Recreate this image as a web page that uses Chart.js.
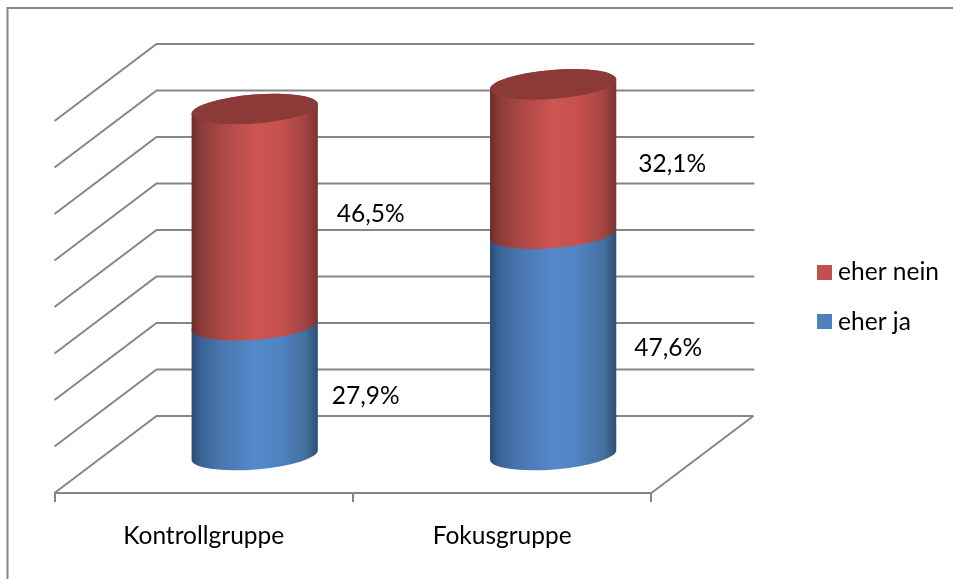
<!DOCTYPE html>
<html><head><meta charset="utf-8">
<style>html,body{margin:0;padding:0;background:#fff;overflow:hidden}canvas{display:block}</style>
<script src="https://cdn.jsdelivr.net/npm/chart.js@4"></script>
</head><body><canvas id="c" width="953" height="579"></canvas>
<script>
const categories = ['Kontrollgruppe', 'Fokusgruppe'];
const eherJa = [27.9, 47.6];
const eherNein = [46.5, 32.1];
const seriesNames = ['eher ja', 'eher nein'];
const seriesColors = ['#4f81bd', '#c0504d'];
const yMax = 80, yStep = 10;

const FONT = 'Lato, Carlito, sans-serif';
const FONT_SIZE = 24.5;
const GREY = '#868686';
const DEPTH_X = 102, DEPTH_Y = 77;
const shades = [
  [[0,'#2b4a70'],[0.07,'#3a6295'],[0.25,'#4a78b0'],[0.5,'#5389cb'],[0.7,'#5083c2'],[0.9,'#44709f'],[1,'#2e4f76']],
  [[0,'#6a2c2a'],[0.07,'#8a3c3a'],[0.25,'#ad4845'],[0.5,'#cd5552'],[0.7,'#c6514e'],[0.9,'#a34442'],[1,'#7a3331']]
];
const capColor = '#8c3a38';
const labelNudge = [[[111, 6], [115, 4]], [[116, -3], [119, 5]]];

function legendSquare(color) {
  const cv = document.createElement('canvas');
  cv.width = 15; cv.height = 15;
  const g = cv.getContext('2d');
  g.fillStyle = color; g.fillRect(0, 0, 15, 15);
  return cv;
}

const scene = {
  id: 'scene',
  afterLayout(chart) {
    const l = chart.legend;
    l.top -= 53; l.bottom -= 53;
    l.left -= 4; l.right -= 4;
  },
  beforeDraw(chart) {
    const {ctx} = chart;
    ctx.save();
    ctx.strokeStyle = GREY; ctx.lineWidth = 2;
    ctx.beginPath(); ctx.moveTo(7.5, 579); ctx.lineTo(7.5, 8); ctx.lineTo(953, 8); ctx.stroke();
    const y = chart.scales.y, a = chart.chartArea;
    ctx.lineWidth = 2; ctx.lineJoin = 'miter';
    y.ticks.forEach(t => {
      const py = y.getPixelForValue(t.value);
      ctx.beginPath();
      ctx.moveTo(a.left, py);
      ctx.lineTo(a.left + DEPTH_X, py - DEPTH_Y);
      ctx.lineTo(a.right + DEPTH_X + (t.value === 0 ? 0 : 1), py - DEPTH_Y);
      ctx.stroke();
    });
    const py0 = y.getPixelForValue(0);
    ctx.beginPath(); ctx.moveTo(a.right, py0); ctx.lineTo(a.right + DEPTH_X, py0 - DEPTH_Y); ctx.stroke();
    ctx.restore();
  },
  beforeDatasetsDraw(chart) {
    const {ctx} = chart;
    const dx = DEPTH_X / 2, dy = DEPTH_Y / 2 - 0.5;
    const tilt = -4.6 * Math.PI / 180, b = 14.5;
    ctx.save();
    chart.data.datasets.forEach((ds, i) => {
      chart.getDatasetMeta(i).data.forEach((el) => {
        const cx = el.x + dx, top = el.y - dy, bot = el.base - dy, a = el.width / 2 / Math.cos(tilt);
        const g = ctx.createLinearGradient(cx - el.width/2, 0, cx + el.width/2, 0);
        shades[i].forEach(s => g.addColorStop(s[0], s[1]));
        ctx.fillStyle = g;
        ctx.beginPath();
        ctx.ellipse(cx, top, a, b, tilt, Math.PI, 2 * Math.PI);
        ctx.ellipse(cx, bot, a, b, tilt, 0, Math.PI);
        ctx.closePath();
        ctx.fill();
        if (i === chart.data.datasets.length - 1) {
          ctx.fillStyle = capColor;
          ctx.beginPath();
          ctx.ellipse(cx, top, a, b, tilt, 0, 2 * Math.PI);
          ctx.fill();
        }
      });
    });
    ctx.fillStyle = '#000';
    ctx.font = FONT_SIZE + 'px ' + FONT;
    ctx.textAlign = 'center'; ctx.textBaseline = 'middle';
    chart.data.datasets.forEach((ds, i) => {
      chart.getDatasetMeta(i).data.forEach((el, j) => {
        const v = ds.data[j].toFixed(1).replace('.', ',') + '%';
        const n = labelNudge[i][j];
        ctx.fillText(v, el.x + dx + n[0], (el.y + el.base) / 2 - dy + n[1]);
      });
    });
    ctx.restore();
    return false;
  }
};

new Chart(document.getElementById('c'), {
  type: 'bar',
  data: {
    labels: categories,
    datasets: [
      {label: seriesNames[0], data: eherJa, backgroundColor: seriesColors[0], borderWidth: 0},
      {label: seriesNames[1], data: eherNein, backgroundColor: seriesColors[1], borderWidth: 0}
    ]
  },
  plugins: [scene],
  options: {
    responsive: false,
    animation: false,
    layout: {padding: {left: 54.5, top: 121, right: 0, bottom: 0}},
    datasets: {bar: {categoryPercentage: 1, barPercentage: 0.423}},
    scales: {
      x: {
        stacked: true,
        border: {color: GREY, width: 2},
        grid: {drawOnChartArea: false, color: GREY, lineWidth: 2, tickLength: 9, drawTicks: true},
        ticks: {color: '#000', font: {family: FONT, size: FONT_SIZE}, padding: 19, maxRotation: 0},
        afterFit(s) { s.height = 86; }
      },
      y: {
        stacked: true,
        position: 'right',
        min: 0, max: yMax,
        ticks: {stepSize: yStep, display: false},
        grid: {display: false},
        border: {display: false},
        afterFit(s) { s.width = 150.5; }
      }
    },
    plugins: {
      legend: {
        position: 'right',
        reverse: true,
        labels: {
          usePointStyle: true,
          pointStyleWidth: 3,
          boxHeight: 15,
          padding: 25,
          color: '#000',
          font: {family: FONT, size: FONT_SIZE},
          generateLabels(c) {
            const items = Chart.defaults.plugins.legend.labels.generateLabels(c);
            items.forEach(it => { it.pointStyle = legendSquare(seriesColors[it.datasetIndex]); });
            return items;
          }
        }
      },
      tooltip: {enabled: false}
    }
  }
});
</script></body></html>
